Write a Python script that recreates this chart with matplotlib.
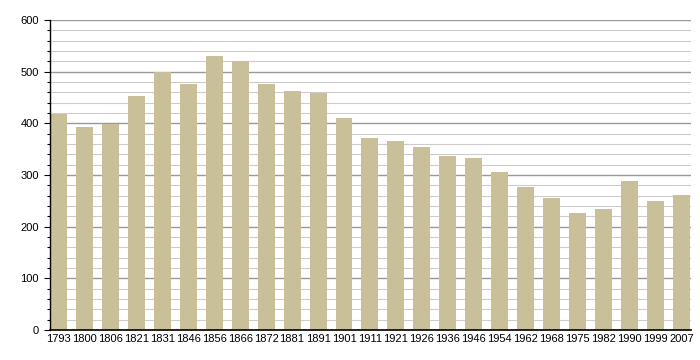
import matplotlib
matplotlib.use("Agg")
import matplotlib.pyplot as plt
from matplotlib.ticker import MultipleLocator

years = ["1793", "1800", "1806", "1821", "1831", "1846", "1856", "1866", "1872",
         "1881", "1891", "1901", "1911", "1921", "1926", "1936", "1946", "1954",
         "1962", "1968", "1975", "1982", "1990", "1999", "2007"]
population = [418, 393, 399, 453, 499, 476, 530, 521, 476, 462, 458, 410, 372,
              366, 354, 337, 333, 306, 277, 256, 226, 234, 288, 250, 261]

plt.rcParams["font.family"] = ["Liberation Sans", "DejaVu Sans"]

fig = plt.figure(figsize=(7, 3.6), dpi=100)
ax = fig.add_axes([50 / 700, 30 / 360, 641 / 700, 310 / 360])

x = range(len(years))
ax.bar(x, population, width=0.654, color="#c9bf98", zorder=2)

ax.set_xlim(-0.327, len(years) - 1 + 0.37)
ax.set_ylim(0, 600)
ax.set_xticks(list(x))
ax.set_xticklabels(years, fontsize=8)
ax.tick_params(axis="x", length=0, pad=3)

ax.yaxis.set_major_locator(MultipleLocator(100))
ax.yaxis.set_minor_locator(MultipleLocator(20))
ax.tick_params(axis="y", which="major", length=4, width=0.8, labelsize=8, pad=4)
ax.tick_params(axis="y", which="minor", length=2, width=0.8)

ax.grid(axis="y", which="minor", color="#cccccc", linewidth=0.8, zorder=0)
ax.grid(axis="y", which="major", color="#999999", linewidth=1.0, zorder=0)
ax.set_axisbelow(True)

for side in ["top", "right"]:
    ax.spines[side].set_visible(False)
ax.spines["left"].set_linewidth(1.0)
ax.spines["bottom"].set_linewidth(1.2)

fig.savefig("out.png", dpi=100)
